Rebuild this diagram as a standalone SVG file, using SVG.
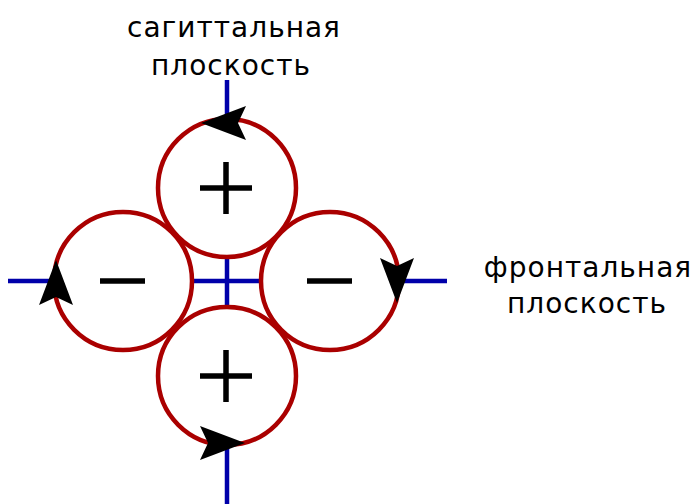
<svg xmlns="http://www.w3.org/2000/svg" width="696" height="504" viewBox="0 0 696 504">
  <style>
    .axis { stroke: #0000aa; stroke-width: 4.5; fill: none; }
    .loop { stroke: #aa0000; stroke-width: 4.5; fill: none; }
    .sign { stroke: #000; stroke-width: 5.5; fill: none; }
    .label { font-family: "DejaVu Sans", Verdana, sans-serif; font-size: 28px; letter-spacing: 1px; fill: #000; text-anchor: middle; }
  </style>
  <defs>
    <!-- notched arrowhead, tip at origin, pointing along +x -->
    <path id="arrowhead" d="M0,0 L-45,-17 L-37,0 L-45,17 Z" fill="#000"/>
  </defs>
  <rect width="696" height="504" fill="#fff"/>

  <g id="connectors">
    <!-- plane traces -->
    <line class="axis" x1="8" y1="281" x2="55" y2="281"/>
    <line class="axis" x1="191" y1="281" x2="262" y2="281"/>
    <line class="axis" x1="399" y1="281" x2="447" y2="281"/>
    <line class="axis" x1="227" y1="80" x2="227" y2="120"/>
    <line class="axis" x1="227" y1="256" x2="227" y2="308"/>
    <line class="axis" x1="227" y1="444" x2="227" y2="504"/>
  </g>

  <g id="loop-top">
    <circle class="loop" cx="227" cy="188" r="69"/>
    <path class="sign" d="M200,188 H252 M226,162 V214"/>
    <use href="#arrowhead" transform="translate(201,123) rotate(180)"/>
  </g>
  <g id="loop-left">
    <circle class="loop" cx="123" cy="281" r="69"/>
    <path class="sign" d="M100,281 H145"/>
    <use href="#arrowhead" transform="translate(56,260) rotate(-90)"/>
  </g>
  <g id="loop-right">
    <circle class="loop" cx="330" cy="281" r="69"/>
    <path class="sign" d="M307,281 H352"/>
    <use href="#arrowhead" transform="translate(397,303) rotate(90)"/>
  </g>
  <g id="loop-bottom">
    <circle class="loop" cx="227" cy="376" r="69"/>
    <path class="sign" d="M200,376 H252 M226,350 V402"/>
    <use href="#arrowhead" transform="translate(245,443)"/>
  </g>

  <g id="label-sagittal">
    <text class="label" x="234" y="37">сагиттальная</text>
    <text class="label" x="231" y="75">плоскость</text>
  </g>
  <g id="label-frontal">
    <text class="label" x="588" y="277">фронтальная</text>
    <text class="label" x="587" y="313">плоскость</text>
  </g>
</svg>
